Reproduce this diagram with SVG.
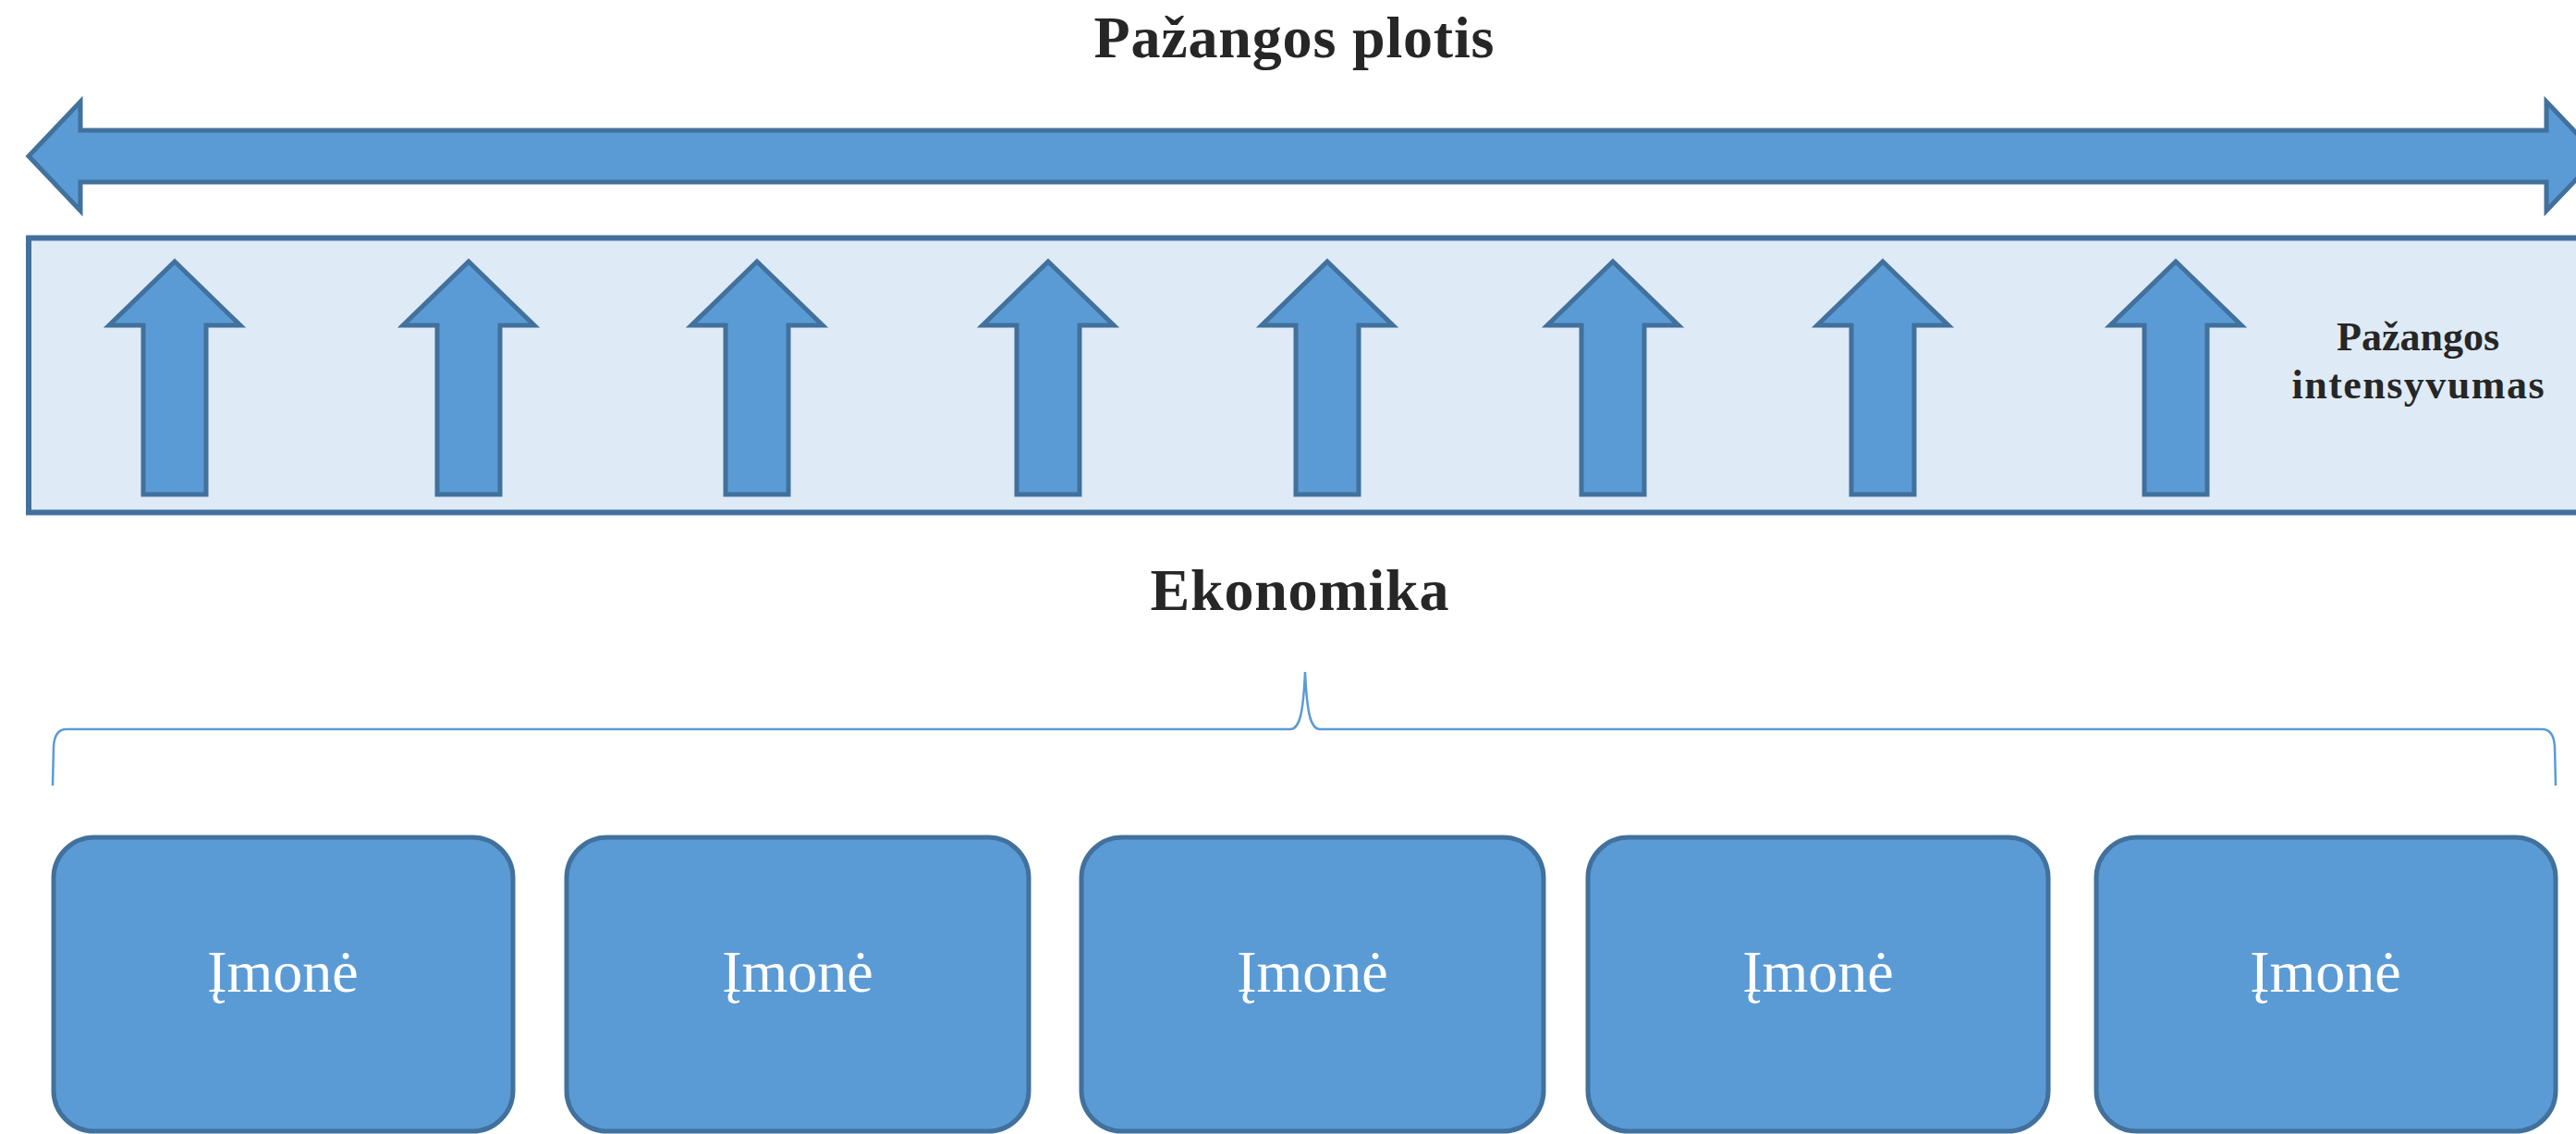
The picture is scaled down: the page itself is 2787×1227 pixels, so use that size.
<svg xmlns="http://www.w3.org/2000/svg" xmlns:xlink="http://www.w3.org/1999/xlink" width="2787" height="1227" viewBox="0 0 2787 1227">
  <style>
    .shape { fill: #5B9BD5; stroke: #41719C; stroke-width: 5; stroke-linejoin: miter; }
    .band { fill: #DEEAF6; stroke: #41719C; stroke-width: 6; }
    .title { font-family: "Liberation Serif", "DejaVu Serif", serif; font-weight: bold; fill: #262626; text-anchor: middle; }
    .label { font-family: "Liberation Serif", "DejaVu Serif", serif; fill: #FFFFFF; text-anchor: middle; font-size: 64px; }
    .brace { fill: none; stroke: #5B9BD5; stroke-width: 2.5; }
  </style>
  <defs>
    <path id="up" d="M0,283 L71,352 L34,352 L34,535 L-34,535 L-34,352 L-71,352 Z"/>
  </defs>
  <rect width="2787" height="1227" fill="#FFFFFF"/>

  <g id="title-plotis">
    <text class="title" x="1400" y="62" font-size="64" textLength="433">Pažangos plotis</text>
  </g>

  <g id="width-arrow">
    <path class="shape" stroke-width="4.5" d="M31,169 L87,110 L87,141 L2755,141 L2755,110 L2811,169 L2755,228 L2755,197 L87,197 L87,228 Z"/>
  </g>

  <g id="intensity-band">
    <rect class="band" x="31" y="257.5" width="2800" height="297"/>
    <text class="title" x="2616" y="379" font-size="44">Pažangos</text>
    <text class="title" x="2616" y="431" font-size="44" textLength="273">intensyvumas</text>
  </g>

  <g id="up-arrows">
    <g id="up1"><use xlink:href="#up" href="#up" class="shape" x="189"/></g>
    <g id="up2"><use xlink:href="#up" href="#up" class="shape" x="507"/></g>
    <g id="up3"><use xlink:href="#up" href="#up" class="shape" x="819"/></g>
    <g id="up4"><use xlink:href="#up" href="#up" class="shape" x="1134"/></g>
    <g id="up5"><use xlink:href="#up" href="#up" class="shape" x="1436"/></g>
    <g id="up6"><use xlink:href="#up" href="#up" class="shape" x="1745"/></g>
    <g id="up7"><use xlink:href="#up" href="#up" class="shape" x="2037"/></g>
    <g id="up8"><use xlink:href="#up" href="#up" class="shape" x="2354"/></g>
  </g>

  <g id="title-ekonomika">
    <text class="title" x="1406" y="660" font-size="64" textLength="323">Ekonomika</text>
  </g>

  <g id="connectors">
    <path class="brace" d="M57,850 L58,808 Q59,789 72,789 L1396,789 C1406,789 1410,772 1412,727 C1414,772 1418,789 1428,789 L2750,789 Q2763,789 2764,808 L2765,850"/>
  </g>

  <g id="imone1">
    <rect class="shape" x="58" y="906" width="497" height="318" rx="44" ry="44"/>
    <text class="label" x="306" y="1073">Įmonė</text>
  </g>
  <g id="imone2">
    <rect class="shape" x="613" y="906" width="500" height="318" rx="44" ry="44"/>
    <text class="label" x="863" y="1073">Įmonė</text>
  </g>
  <g id="imone3">
    <rect class="shape" x="1170" y="906" width="500" height="318" rx="44" ry="44"/>
    <text class="label" x="1420" y="1073">Įmonė</text>
  </g>
  <g id="imone4">
    <rect class="shape" x="1718" y="906" width="498" height="318" rx="44" ry="44"/>
    <text class="label" x="1967" y="1073">Įmonė</text>
  </g>
  <g id="imone5">
    <rect class="shape" x="2268" y="906" width="497" height="318" rx="44" ry="44"/>
    <text class="label" x="2516" y="1073">Įmonė</text>
  </g>
</svg>
